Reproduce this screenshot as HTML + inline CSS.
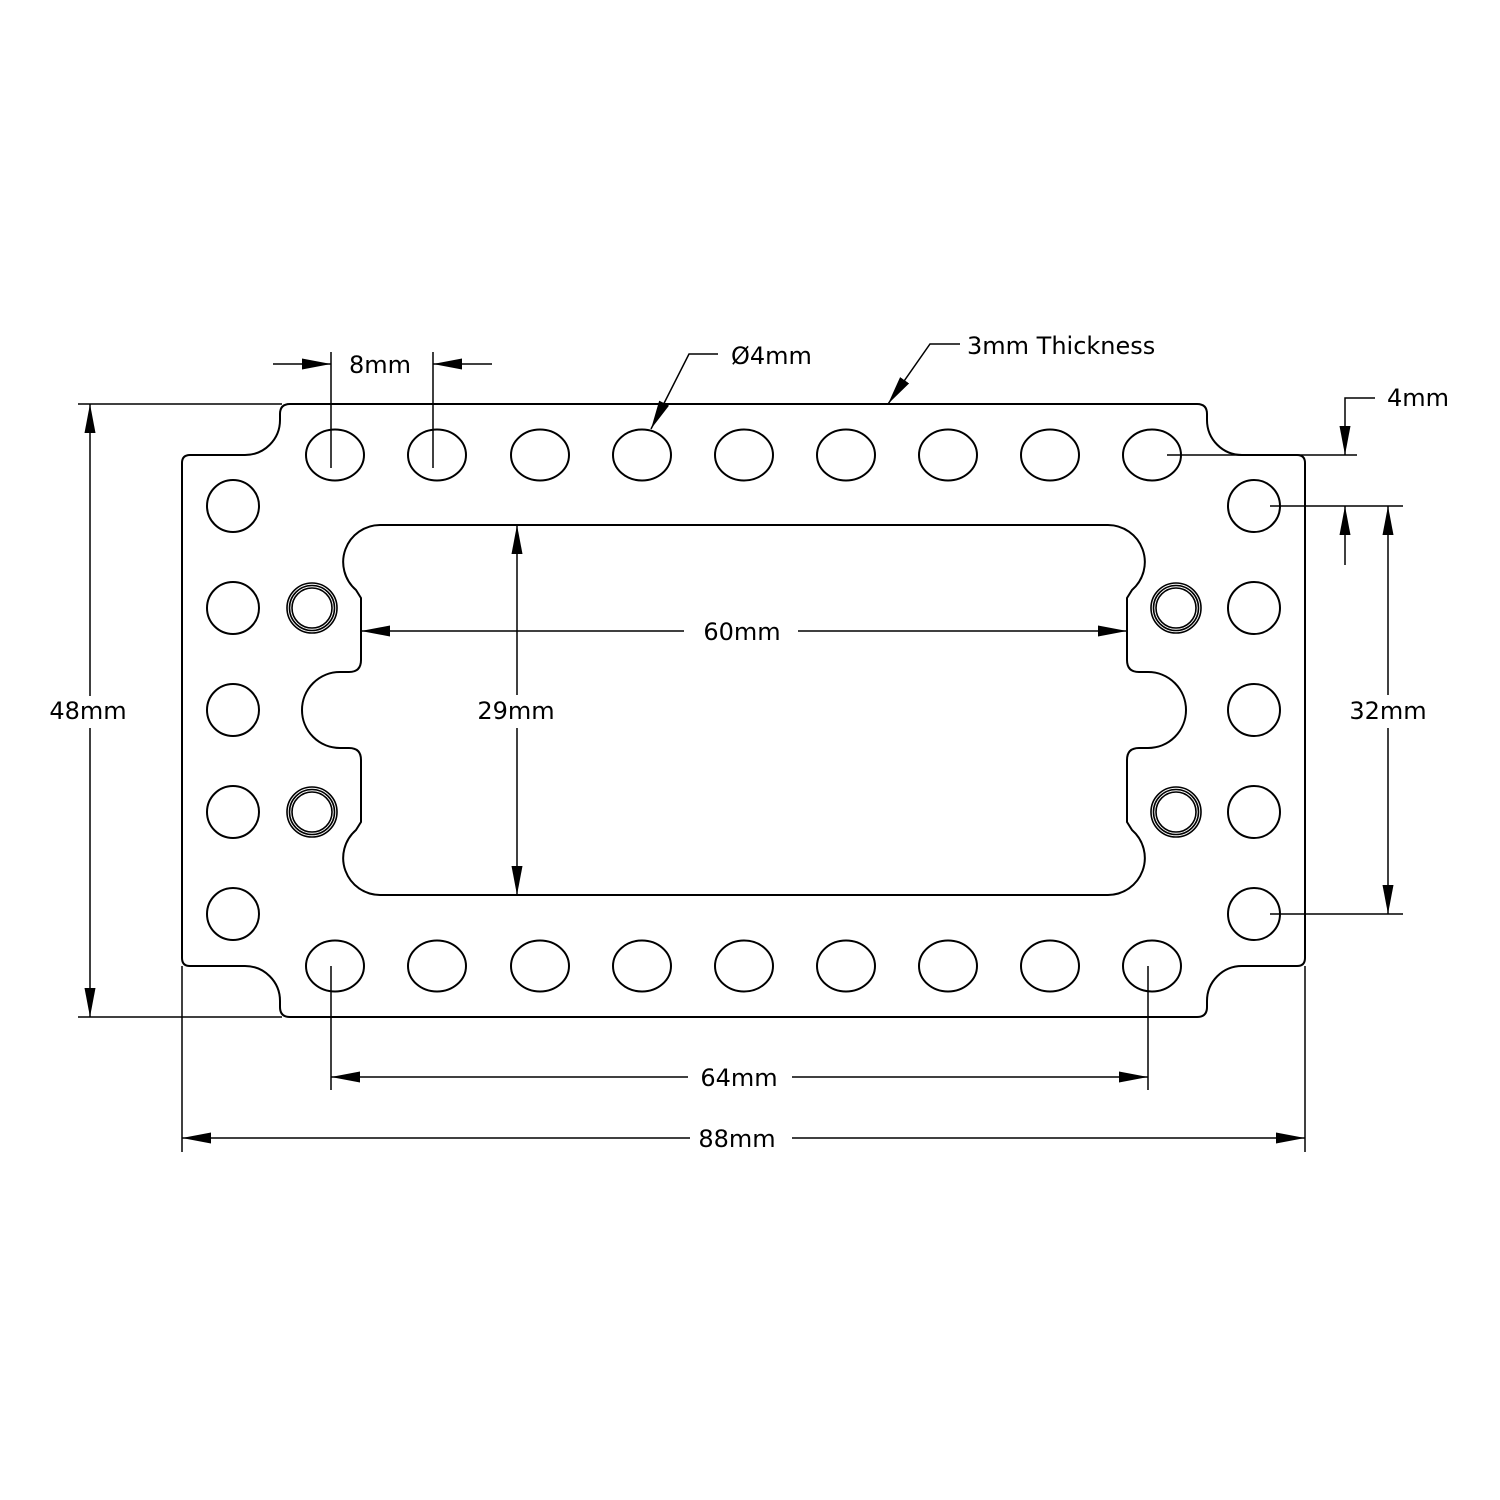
<!DOCTYPE html>
<html><head><meta charset="utf-8"><style>
html,body{margin:0;padding:0;background:#fff}
svg{display:block}
text{font-family:"DejaVu Sans","Liberation Sans",sans-serif;font-size:24px;fill:#000}
</style></head><body>
<svg width="1500" height="1500" viewBox="0 0 1500 1500" xmlns="http://www.w3.org/2000/svg">
<defs>
<marker id="a" markerWidth="30" markerHeight="12" refX="29" refY="6" orient="auto" markerUnits="userSpaceOnUse">
<path d="M0,0.5 L29,6 L0,11.5 Z" fill="#000"/></marker>
</defs>
<g fill="none" stroke="#000" stroke-width="2">
<path d="M290 404 L1197 404 Q1207 404 1207 414 L1207 420 A35 35 0 0 0 1242 455 L1297 455 Q1305 455 1305 463 L1305 958 Q1305 966 1297 966 L1242 966 A35 35 0 0 0 1207 1001 L1207 1007 Q1207 1017 1197 1017 L290 1017 Q280 1017 280 1007 L280 1001 A35 35 0 0 0 245 966 L190 966 Q182 966 182 958 L182 463 Q182 455 190 455 L245 455 A35 35 0 0 0 280 420 L280 414 Q280 404 290 404 Z"/>
<path d="M380 525 L1108 525 A37 37 0 0 1 1132 590 L1127 598 L1127 660 Q1127 672 1139 672 L1148 672 A38 38 0 0 1 1148 748 L1139 748 Q1127 748 1127 760 L1127 822 L1132 830 A37 37 0 0 1 1108 895 L380 895 A37 37 0 0 1 356 830 L361 822 L361 760 Q361 748 349 748 L340 748 A38 38 0 0 1 340 672 L349 672 Q361 672 361 660 L361 598 L356 590 A37 37 0 0 1 380 525 Z"/>
<g id="ov">
<ellipse cx="335" cy="455" rx="29" ry="25.5"/>
<ellipse cx="437" cy="455" rx="29" ry="25.5"/>
<ellipse cx="540" cy="455" rx="29" ry="25.5"/>
<ellipse cx="642" cy="455" rx="29" ry="25.5"/>
<ellipse cx="744" cy="455" rx="29" ry="25.5"/>
<ellipse cx="846" cy="455" rx="29" ry="25.5"/>
<ellipse cx="948" cy="455" rx="29" ry="25.5"/>
<ellipse cx="1050" cy="455" rx="29" ry="25.5"/>
<ellipse cx="1152" cy="455" rx="29" ry="25.5"/>
</g>
<use href="#ov" y="511"/>
<circle cx="233" cy="506" r="26"/><circle cx="233" cy="608" r="26"/><circle cx="233" cy="710" r="26"/><circle cx="233" cy="812" r="26"/><circle cx="233" cy="914" r="26"/>
<circle cx="1254" cy="506" r="26"/><circle cx="1254" cy="608" r="26"/><circle cx="1254" cy="710" r="26"/><circle cx="1254" cy="812" r="26"/><circle cx="1254" cy="914" r="26"/>
<g stroke-width="1.6">
<circle cx="312" cy="608" r="25"/><circle cx="312" cy="608" r="22.5"/><circle cx="312" cy="608" r="20"/>
<circle cx="312" cy="812" r="25"/><circle cx="312" cy="812" r="22.5"/><circle cx="312" cy="812" r="20"/>
<circle cx="1176" cy="608" r="25"/><circle cx="1176" cy="608" r="22.5"/><circle cx="1176" cy="608" r="20"/>
<circle cx="1176" cy="812" r="25"/><circle cx="1176" cy="812" r="22.5"/><circle cx="1176" cy="812" r="20"/>
</g>
</g>
<g fill="none" stroke="#000" stroke-width="1.5">
<line x1="78" y1="404" x2="282" y2="404"/><line x1="78" y1="1017" x2="282" y2="1017"/>
<line x1="90" y1="696" x2="90" y2="404" marker-end="url(#a)"/><line x1="90" y1="728" x2="90" y2="1017" marker-end="url(#a)"/>
<line x1="182" y1="966" x2="182" y2="1152"/><line x1="1305" y1="966" x2="1305" y2="1152"/>
<line x1="690" y1="1138" x2="182" y2="1138" marker-end="url(#a)"/><line x1="792" y1="1138" x2="1305" y2="1138" marker-end="url(#a)"/>
<line x1="331" y1="966" x2="331" y2="1090"/><line x1="1148" y1="966" x2="1148" y2="1090"/>
<line x1="688" y1="1077" x2="331" y2="1077" marker-end="url(#a)"/><line x1="792" y1="1077" x2="1148" y2="1077" marker-end="url(#a)"/>
<line x1="684" y1="631" x2="361" y2="631" marker-end="url(#a)"/><line x1="798" y1="631" x2="1127" y2="631" marker-end="url(#a)"/>
<line x1="517" y1="695" x2="517" y2="525" marker-end="url(#a)"/><line x1="517" y1="728" x2="517" y2="895" marker-end="url(#a)"/>
<line x1="1270" y1="506" x2="1403" y2="506"/><line x1="1270" y1="914" x2="1403" y2="914"/>
<line x1="1388" y1="695" x2="1388" y2="506" marker-end="url(#a)"/><line x1="1388" y1="728" x2="1388" y2="914" marker-end="url(#a)"/>
<line x1="1167" y1="455" x2="1357" y2="455"/>
<polyline points="1375,398 1345,398 1345,455" marker-end="url(#a)"/>
<line x1="1345" y1="565" x2="1345" y2="506" marker-end="url(#a)"/>
<line x1="331" y1="352" x2="331" y2="468"/><line x1="433" y1="352" x2="433" y2="468"/>
<line x1="273" y1="364" x2="331" y2="364" marker-end="url(#a)"/><line x1="492" y1="364" x2="433" y2="364" marker-end="url(#a)"/>
<polyline points="718,354 689,354 651,429" marker-end="url(#a)"/>
<polyline points="960,344 930,344 888,404" marker-end="url(#a)"/>
</g>
<text x="88" y="719" text-anchor="middle">48mm</text>
<text x="737" y="1147" text-anchor="middle">88mm</text>
<text x="739" y="1086" text-anchor="middle">64mm</text>
<text x="742" y="640" text-anchor="middle">60mm</text>
<text x="516" y="719" text-anchor="middle">29mm</text>
<text x="1388" y="719" text-anchor="middle">32mm</text>
<text x="1387" y="406">4mm</text>
<text x="349" y="373">8mm</text>
<text x="731" y="364">Ø4mm</text>
<text x="967" y="354">3mm Thickness</text>
</svg>
</body></html>
